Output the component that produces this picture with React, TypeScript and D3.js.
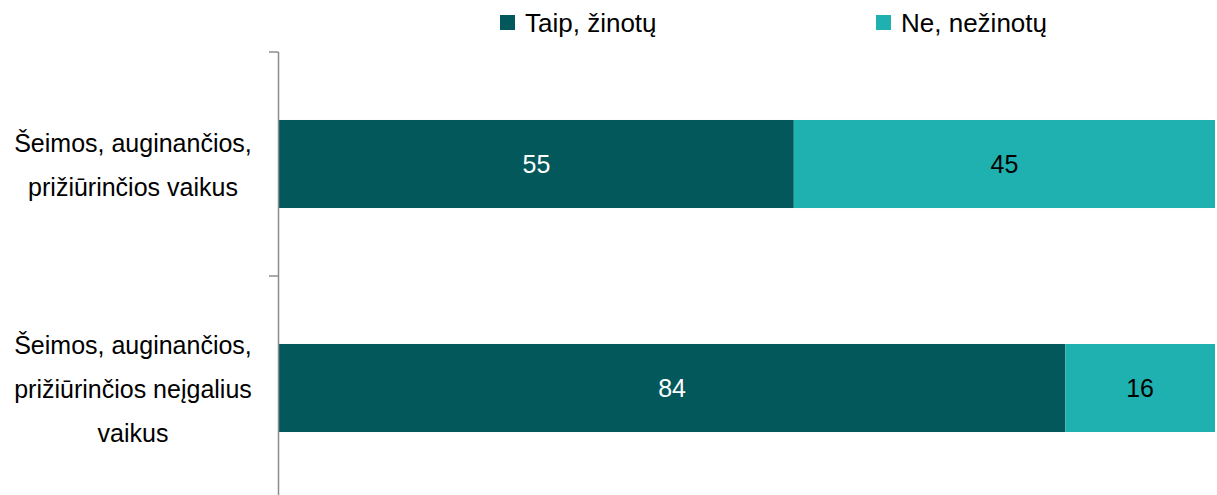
import React from "react";
import * as d3 from "d3";

const categories = [
  ["Šeimos, auginančios,", "prižiūrinčios vaikus"],
  ["Šeimos, auginančios,", "prižiūrinčios neįgalius", "vaikus"],
];
const seriesNames = ["Taip, žinotų", "Ne, nežinotų"];
const yesValues = [55, 84];
const noValues = [45, 16];
const colors = ["#03585c", "#1fb1af"];
const labelColors = ["#ffffff", "#000000"];

const W = 1217;
const H = 495;
const FONT = "'Liberation Sans', Arial, sans-serif";

export default function App() {
  const x = d3.scaleLinear().domain([0, 100]).range([279, 1215]);
  const y = d3
    .scaleBand<number>()
    .domain(categories.map((_, i) => i))
    .range([52, 500])
    .paddingInner(0)
    .paddingOuter(0);
  const barH = y.bandwidth() * 0.393;
  const series = [yesValues, noValues];
  const stack = categories.map((_, i) => {
    let acc = 0;
    return series.map((s) => {
      const x0 = acc;
      acc += s[i];
      return [x0, acc];
    });
  });
  const lineH = 44;

  return (
    <svg
      width={W}
      height={H}
      style={{ position: "absolute", left: 0, top: 0, display: "block" }}
      fontFamily={FONT}
    >
      <rect width={W} height={H} fill="#fff" />
      {/* legend */}
      {seriesNames.map((n, i) => {
        const lx = [500, 876][i];
        return (
          <g key={n}>
            <rect x={lx} y={15} width={15} height={15} fill={colors[i]} />
            <text x={lx + 25} y={32} fontSize={26} fill="#000">
              {n}
            </text>
          </g>
        );
      })}
      {/* bars */}
      {categories.map((_, ci) => {
        const cy = (y(ci) as number) + y.bandwidth() / 2;
        return stack[ci].map(([a, b], si) => (
          <g key={`${ci}-${si}`}>
            <rect
              x={x(a)}
              y={cy - barH / 2}
              width={x(b) - x(a)}
              height={barH}
              fill={colors[si]}
            />
            <text
              x={(x(a) + x(b)) / 2}
              y={cy}
              dy="0.35em"
              textAnchor="middle"
              fontSize={25}
              fill={labelColors[si]}
            >
              {series[si][ci]}
            </text>
          </g>
        ));
      })}
      {/* axis */}
      <line x1={278.5} x2={278.5} y1={52} y2={H} stroke="#8c8c8c" strokeWidth={1.5} />
      {[0, 1, 2].map((k) => {
        const ty = 52 + k * y.step();
        return (
          <line key={k} x1={269} x2={278.5} y1={ty} y2={ty} stroke="#8c8c8c" strokeWidth={1.5} />
        );
      })}
      {/* category labels */}
      {categories.map((lines, ci) => {
        const cy = (y(ci) as number) + y.bandwidth() / 2;
        const start = cy - ((lines.length - 1) * lineH) / 2;
        return (
          <text key={ci} textAnchor="middle" fontSize={25} fill="#000">
            {lines.map((l, li) => (
              <tspan key={li} x={133} y={start + li * lineH + 1} dy="0.35em">
                {l}
              </tspan>
            ))}
          </text>
        );
      })}
    </svg>
  );
}
